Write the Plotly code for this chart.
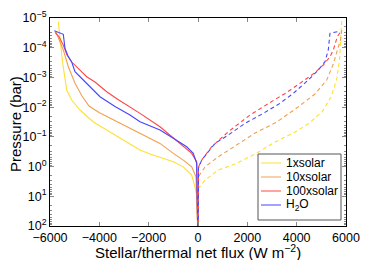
import plotly.graph_objects as go

# ---- data: stellar (solid, negative) and thermal (dashed, positive) net flux vs pressure ----
series_names = ["1xsolar", "10xsolar", "100xsolar", "H<sub>2</sub>O"]
series_colors = ["#FFE033", "#F0A050", "#FF4545", "#4545FF"]

# stellar net flux (W m^-2)
stellar_1x_p = [1.33e-5, 1.02e-4, 2.59e-4, 6.6e-4, 2.65e-3, 5.77e-3, 1.25e-2, 3.10e-2, 6.73e-2,
                0.146, 0.278, 0.379, 0.689, 1.02, 1.93, 4.79, 9.12, 100]
stellar_1x_f = [-5663, -5566, -5501, -5432, -5323, -5120, -4783, -4256, -3568,
                -2891, -2351, -1946, -1001, -596, -255, -122, -53, -15]

stellar_10x_p = [2.96e-5, 4.83e-5, 1.19e-4, 4.37e-4, 1.58e-3, 4.23e-3, 9.18e-3, 1.52e-2, 2.33e-2,
                 5.18e-2, 7.62e-2, 0.166, 0.360, 0.604, 1.02, 2.20, 100]
stellar_10x_f = [-5757, -5663, -5461, -5258, -4986, -4703, -4419, -4013, -3568,
                 -2757, -2351, -1541, -1001, -596, -255, -81, -15]

stellar_100x_p = [3.03e-5, 4.27e-5, 8.11e-5, 1.76e-4, 3.03e-4, 5.63e-4, 9.47e-4, 1.43e-3, 3.03e-3,
                  5.54e-3, 9.70e-3, 1.62e-2, 4.57e-2, 0.112, 0.215, 0.360, 0.689, 100]
stellar_100x_f = [-5797, -5635, -5461, -5311, -5120, -4783, -4512, -4176, -3701,
                  -3243, -2757, -2351, -1541, -1001, -596, -255, -53, -15]

stellar_h2o_p = [2.68e-5, 3.54e-5, 1.05e-4, 1.90e-4, 3.03e-4, 6.43e-4, 1.22e-3, 2.06e-3, 4.47e-3,
                 9.55e-3, 1.84e-2, 3.10e-2, 5.90e-2, 0.112, 0.215, 0.360, 0.780, 100]
stellar_h2o_f = [-5826, -5461, -5392, -5270, -5120, -4986, -4650, -4378, -3973,
                 -3365, -2757, -2351, -1541, -1001, -458, -191, -53, -15]

# thermal net flux (W m^-2)
thermal_1x_p = [1.26e-5, 5.51e-5, 2.59e-4, 1.22e-3, 4.57e-3, 1.46e-2, 3.71e-2, 6.89e-2, 0.150,
                0.379, 0.824, 1.31, 2.85, 5.30, 100]
thermal_1x_f = [5826, 5797, 5736, 5615, 5392, 5027, 4459, 3932, 3122,
                2311, 1500, 823, 284, 20, 12]

thermal_10x_p = [2.54e-5, 5.51e-5, 9.46e-5, 3.54e-4, 1.22e-3, 3.62e-3, 9.93e-3, 3.18e-2, 5.06e-2,
                 7.45e-2, 0.204, 0.468, 1.02, 2.20, 100]
thermal_10x_f = [5826, 5777, 5688, 5485, 5218, 4743, 4054, 3191, 2716,
                 2311, 1500, 823, 284, 20, 12]

thermal_100x_p = [3.13e-5, 4.27e-5, 1.19e-4, 2.01e-4, 3.82e-4, 6.84e-4, 1.32e-3, 3.22e-3, 7.00e-3,
                  1.84e-2, 6.73e-2, 0.215, 0.604, 1.04, 100]
thermal_100x_f = [5757, 5647, 5485, 5351, 5080, 4743, 4269, 3596, 2919,
                  2108, 1228, 555, 150, 20, 12]

thermal_h2o_p = [2.89e-5, 3.27e-5, 1.19e-4, 2.96e-4, 5.63e-4, 1.22e-3, 3.43e-3, 7.45e-3, 1.62e-2,
                 2.72e-2, 3.51e-2, 8.69e-2, 0.166, 0.604, 1.12, 100]
thermal_h2o_f = [5647, 5351, 5282, 5149, 4877, 4472, 3864, 3324, 2647,
                 2108, 1905, 1228, 689, 150, 20, 12]

x_ticks = [-6000, -4000, -2000, 0, 2000, 4000, 6000]
x_ticktext = ["\u22126000", "\u22124000", "\u22122000", "0", "2000", "4000", "6000"]
y_ticks = [1e-5, 1e-4, 1e-3, 1e-2, 1e-1, 1e0, 1e1, 1e2]
y_ticktext = ["10<sup>\u22125</sup>", "10<sup>\u22124</sup>", "10<sup>\u22123</sup>", "10<sup>\u22122</sup>",
              "10<sup>\u22121</sup>", "10<sup>0</sup>", "10<sup>1</sup>", "10<sup>2</sup>"]

stellar = [(stellar_1x_f, stellar_1x_p), (stellar_10x_f, stellar_10x_p),
           (stellar_100x_f, stellar_100x_p), (stellar_h2o_f, stellar_h2o_p)]
thermal = [(thermal_1x_f, thermal_1x_p), (thermal_10x_f, thermal_10x_p),
           (thermal_100x_f, thermal_100x_p), (thermal_h2o_f, thermal_h2o_p)]

fig = go.Figure()
for (f, p), name, col in zip(stellar, series_names, series_colors):
    fig.add_trace(go.Scatter(x=f, y=p, mode="lines", name=name, showlegend=False,
                             line=dict(color=col, width=1.1)))
for (f, p), name, col in zip(thermal, series_names, series_colors):
    fig.add_trace(go.Scatter(x=f, y=p, mode="lines", name=name, showlegend=False,
                             line=dict(color=col, width=1.1, dash="4px,3px")))

# The page body has an 8px offset; the figure is sized to fit the 382x260 window.
W, H = 374, 252
ML, MR, MT, MB = 42, 36, 10, 34
PW, PH = W - ML - MR, H - MT - MB
OFF = 8


def px_to_paper(X, Y):
    return (X - OFF - ML) / PW, (H - MB + OFF - Y) / PH


font_family = "Liberation Sans, Arial, sans-serif"
shapes = []
annotations = []

# axis titles
tx, ty = px_to_paper(198, 251)
annotations.append(dict(text="Stellar/thermal net flux (W m<sup>\u22122</sup>)", x=tx, y=ty,
                        xref="paper", yref="paper", xanchor="center", yanchor="middle",
                        showarrow=False, font=dict(size=15)))
tx, ty = px_to_paper(15, 124)
annotations.append(dict(text="Pressure (bar)", x=tx, y=ty, textangle=-90,
                        xref="paper", yref="paper", xanchor="center", yanchor="middle",
                        showarrow=False, font=dict(size=15)))

# legend box
x0, y0 = px_to_paper(258, 220)
x1, y1 = px_to_paper(341, 154)
shapes.append(dict(type="rect", xref="paper", yref="paper", x0=x0, y0=y0, x1=x1, y1=y1,
                   line=dict(color="#555", width=1), fillcolor="white", layer="above"))
entry_y = [163, 177, 191, 205]
for name, col, ey in zip(series_names, series_colors, entry_y):
    lx0, ly = px_to_paper(261, ey)
    lx1, _ = px_to_paper(281, ey)
    shapes.append(dict(type="line", xref="paper", yref="paper", x0=lx0, x1=lx1, y0=ly, y1=ly,
                       line=dict(color=col, width=1.5), opacity=0.65, layer="above"))
    ax_, ay_ = px_to_paper(284, ey)
    annotations.append(dict(text=name, x=ax_, y=ay_, xref="paper", yref="paper",
                            xanchor="left", yanchor="middle", showarrow=False,
                            font=dict(size=12)))

fig.update_layout(
    width=W, height=H,
    margin=dict(l=ML, r=MR, t=MT, b=MB, autoexpand=False),
    paper_bgcolor="white", plot_bgcolor="white",
    font=dict(family=font_family, size=12.5, color="black"),
    showlegend=False,
    shapes=shapes,
    annotations=annotations,
)
fig.update_xaxes(
    range=[-6000, 6000], tickvals=x_ticks, ticktext=x_ticktext, automargin=False,
    ticks="inside", ticklen=4, tickcolor="#888", mirror="ticks",
    showline=True, linecolor="black", linewidth=1, showgrid=False, zeroline=False,
    tickfont=dict(size=12.5),
)
fig.update_yaxes(
    type="log", range=[2, -5], tickvals=y_ticks, ticktext=y_ticktext, automargin=False,
    ticks="inside", ticklen=4, tickcolor="#888", mirror="ticks",
    minor=dict(ticks="inside", ticklen=2, tickcolor="#888", dtick="D1"),
    showline=True, linecolor="black", linewidth=1, showgrid=False, zeroline=False,
    tickfont=dict(size=12.5),
)

fig.write_html("out.html")
